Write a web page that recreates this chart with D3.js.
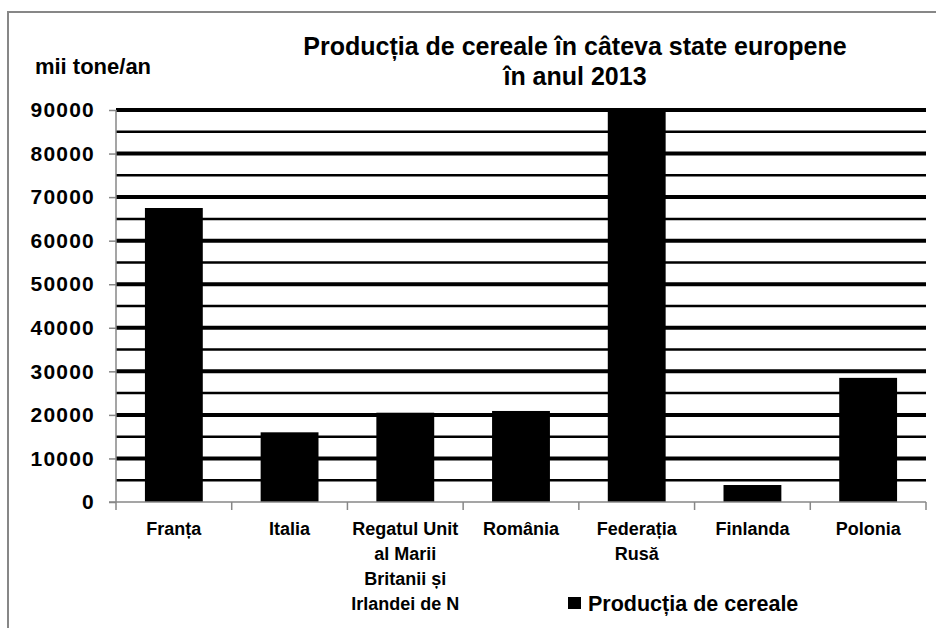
<!DOCTYPE html>
<html>
<head>
<meta charset="utf-8">
<script src="https://cdnjs.cloudflare.com/ajax/libs/d3/7.8.5/d3.min.js"></script>
<style>
body{margin:0;background:#fff;}
svg text{font-family:"Liberation Sans",Arial,sans-serif;font-weight:bold;fill:#000;}
</style>
</head>
<body>
<svg id="chart" width="936" height="628"></svg>
<script>
// data (mii tone/an)
var categories=["Franța","Italia","Regatul Unit al Marii Britanii și Irlandei de N","România","Federația Rusă","Finlanda","Polonia"];
var labelLines=[["Franța"],["Italia"],["Regatul Unit","al Marii","Britanii și","Irlandei de N"],["România"],["Federația","Rusă"],["Finlanda"],["Polonia"]];
var production=[67500,16000,20500,20900,92000,3900,28500];
var yTicks=[0,10000,20000,30000,40000,50000,60000,70000,80000,90000];
var minorTicks=[5000,15000,25000,35000,45000,55000,65000,75000,85000];
var titleLines=["Producția de cereale în câteva state europene","în anul 2013"];
var unitLabel="mii tone/an";
var legendLabel="Producția de cereale";

var LEFT=116,RIGHT=926,TOP=110,BOTTOM=502,
	AXISGRAY="#878787";

var svg=d3.select("#chart");

//outer frame (only top and left edges are in view)
svg.append("path")
	.attr("d","M8,628V12H936")
	.attr("fill","none")
	.attr("stroke",AXISGRAY)
	.attr("stroke-width",2);

var x=d3.scaleBand()
	.domain(categories)
	.range([LEFT,RIGHT])
	.padding(0);

var y=d3.scaleLinear()
	.domain([0,90000])
	.range([BOTTOM,TOP])
	.clamp(true);

//gridlines, minor first then major
svg.append("g").selectAll("line.minor")
	.data(minorTicks)
	.enter().append("line")
	.attr("class","minor")
	.attr("x1",LEFT).attr("x2",RIGHT)
	.attr("y1",function(d){return y(d);})
	.attr("y2",function(d){return y(d);})
	.attr("stroke","#000")
	.attr("stroke-width",2.5);

svg.append("g").selectAll("line.major")
	.data(yTicks.filter(function(d){return d>0;}))
	.enter().append("line")
	.attr("class","major")
	.attr("x1",LEFT).attr("x2",RIGHT)
	.attr("y1",function(d){return y(d);})
	.attr("y2",function(d){return y(d);})
	.attr("stroke","#000")
	.attr("stroke-width",4);

//bars
var barW=x.bandwidth()*0.5;
svg.append("g").selectAll("rect")
	.data(production)
	.enter().append("rect")
	.attr("x",function(d,i){return x(categories[i])+x.bandwidth()*0.25;})
	.attr("y",function(d){return y(d);})
	.attr("width",barW)
	.attr("height",function(d){return BOTTOM-y(d);})
	.attr("fill","#000");

//y axis
var yAxis=svg.append("g")
	.attr("transform","translate("+LEFT+",0)")
	.call(d3.axisLeft(y).tickValues(yTicks).tickSize(7).tickPadding(14).tickFormat(d3.format("d")));
yAxis.select(".domain").remove();
yAxis.selectAll(".tick line").attr("stroke",AXISGRAY).attr("stroke-width",1.5);
yAxis.selectAll(".tick text")
	.attr("font-size",21)
	.attr("letter-spacing",1.2)
	.attr("font-family","'Liberation Sans',Arial,sans-serif")
	.attr("fill","#000");
svg.append("line")
	.attr("x1",LEFT).attr("x2",LEFT)
	.attr("y1",TOP).attr("y2",BOTTOM+8)
	.attr("stroke",AXISGRAY).attr("stroke-width",1.5);

//x axis line and boundary ticks
svg.append("line")
	.attr("x1",LEFT-7).attr("x2",RIGHT)
	.attr("y1",BOTTOM).attr("y2",BOTTOM)
	.attr("stroke",AXISGRAY).attr("stroke-width",1.5);
svg.append("g").selectAll("line")
	.data(categories)
	.enter().append("line")
	.attr("x1",function(d){return x(d)+x.step();})
	.attr("x2",function(d){return x(d)+x.step();})
	.attr("y1",BOTTOM).attr("y2",BOTTOM+8)
	.attr("stroke",AXISGRAY).attr("stroke-width",1.5);

//category labels, wrapped as in the original
var catText=svg.append("g").selectAll("text")
	.data(categories)
	.enter().append("text")
	.attr("text-anchor","middle")
	.attr("font-size",18)
	.attr("transform",function(d){return "translate("+(x(d)+x.bandwidth()/2)+",535)";});
catText.each(function(d,i){
	var t=d3.select(this);
	labelLines[i].forEach(function(line,j){
		t.append("tspan").attr("x",0).attr("y",j*25).text(line);
	});
});

//titles
svg.append("g").selectAll("text")
	.data(titleLines)
	.enter().append("text")
	.attr("x",575)
	.attr("y",function(d,i){return 55+i*30;})
	.attr("text-anchor","middle")
	.attr("font-size",25)
	.text(function(d){return d;});

svg.append("text")
	.attr("x",93).attr("y",74)
	.attr("text-anchor","middle")
	.attr("font-size",22)
	.text(unitLabel);

//legend
svg.append("rect")
	.attr("x",568).attr("y",597)
	.attr("width",13).attr("height",12)
	.attr("fill","#000");
svg.append("text")
	.attr("x",588).attr("y",611)
	.attr("font-size",21.5)
	.text(legendLabel);
</script>
</body>
</html>
